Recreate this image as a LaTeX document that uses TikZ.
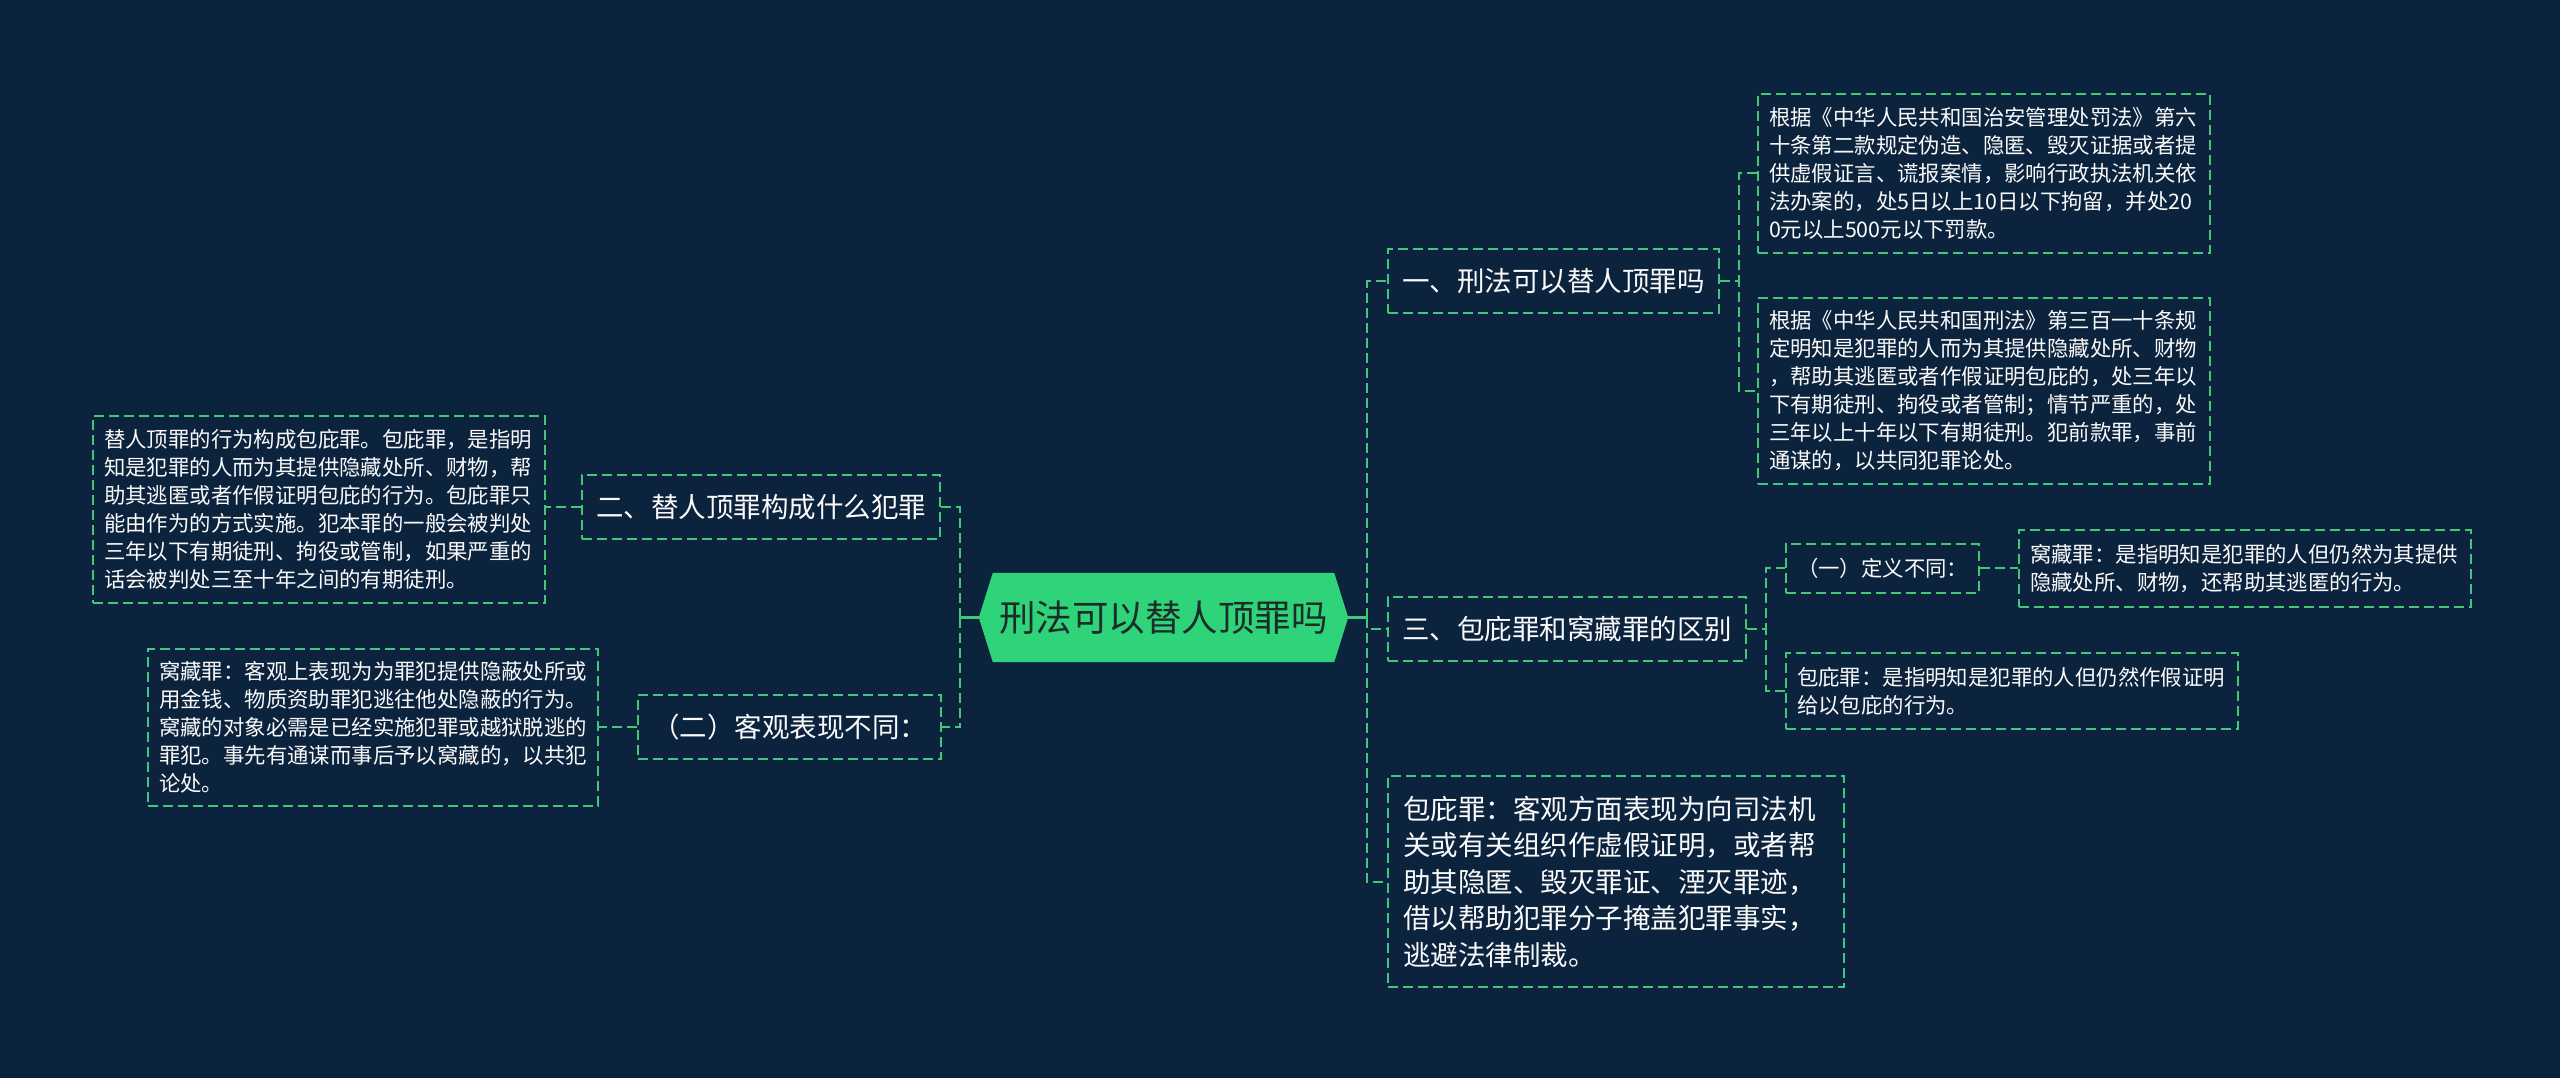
\documentclass[tikz,border=0pt]{standalone}
\usepackage{fontspec}
\setmainfont{Noto Sans CJK SC}
\usetikzlibrary{backgrounds}
\definecolor{bg}{RGB}{12,35,62}
\definecolor{lg}{RGB}{64,200,120}
\definecolor{rootfill}{RGB}{47,211,121}
\definecolor{roottext}{RGB}{28,44,40}
\definecolor{tx}{RGB}{250,250,250}
\begin{document}
\begin{tikzpicture}[x=1pt,y=-1pt,
  dsh/.style={draw=lg,line width=2pt,dash pattern=on 10pt off 5pt},
  link/.style={dsh},
  rootlink/.style={draw=lg,line width=3pt},
  lbl/.style={dsh,text=tx,font=\fontsize{27.5}{36}\selectfont,inner xsep=14pt,inner ysep=0pt,minimum height=64pt},
  txt/.style={dsh,text=tx,font=\fontsize{21.4}{28}\selectfont,align=left,inner xsep=11pt,inner ysep=0pt,anchor=north west},
  bigtxt/.style={dsh,text=tx,font=\fontsize{27.5}{36.5}\selectfont,align=left,inner xsep=15pt,inner ysep=0pt,anchor=north west},
  rootnode/.style={text=roottext,font=\fontsize{36.5}{44}\selectfont,inner sep=0pt,minimum width=369pt,minimum height=89pt}
]
\useasboundingbox (0,0) rectangle (2560,1078);

% root
\node[rootnode] (root) at (1163.5,617.5) {刑法可以替人顶罪吗};
\begin{pgfonlayer}{background}
\fill[bg] (0,0) rectangle (2560,1078);
\fill[rootfill] (root.west) -- ([xshift=14pt]root.north west) -- ([xshift=-14pt]root.north east) -- (root.east) -- ([xshift=-14pt]root.south east) -- ([xshift=14pt]root.south west) -- cycle;
\end{pgfonlayer}

\coordinate (ltrunk) at (960,617.5);
\coordinate (rtrunk) at (1367,617.5);

% right side labels
\node[lbl,anchor=west] (one) at (1387,281) {一、刑法可以替人顶罪吗};
\node[lbl,anchor=west] (three) at (1387,629) {三、包庇罪和窝藏罪的区别};
\node[bigtxt,text width=426pt,minimum height=211pt] (F) at (1387,775) {包庇罪：客观方面表现为向司法机\\关或有关组织作虚假证明，或者帮\\助其隐匿、毁灭罪证、湮灭罪迹，\\借以帮助犯罪分子掩盖犯罪事实，\\逃避法律制裁。};

% children of one
\node[txt,text width=430pt,minimum height=159pt] (A) at (1757,93) {根据《中华人民共和国治安管理处罚法》第六\\十条第二款规定伪造、隐匿、毁灭证据或者提\\供虚假证言、谎报案情，影响行政执法机关依\\法办案的，处5日以上10日以下拘留，并处20\\0元以上500元以下罚款。};
\node[txt,text width=430pt,minimum height=186pt] (B) at (1757,297) {根据《中华人民共和国刑法》第三百一十条规\\定明知是犯罪的人而为其提供隐藏处所、财物\\，帮助其逃匿或者作假证明包庇的，处三年以\\下有期徒刑、拘役或者管制；情节严重的，处\\三年以上十年以下有期徒刑。犯前款罪，事前\\通谋的，以共同犯罪论处。};

% children of three
\node[txt,anchor=west,minimum height=49pt] (C) at (1785,568) {（一）定义不同：};
\node[txt,text width=430pt,minimum height=77pt] (D) at (2018,529) {窝藏罪：是指明知是犯罪的人但仍然为其提供\\隐藏处所、财物，还帮助其逃匿的行为。};
\node[txt,text width=430pt,minimum height=76pt] (E) at (1785,652) {包庇罪：是指明知是犯罪的人但仍然作假证明\\给以包庇的行为。};

% left side
\node[lbl,anchor=east] (two) at (941,507) {二、替人顶罪构成什么犯罪};
\node[lbl,anchor=east] (twob) at (942,727) {（二）客观表现不同：};
\node[txt,text width=430pt,minimum height=187pt] (G) at (92,415) {替人顶罪的行为构成包庇罪。包庇罪，是指明\\知是犯罪的人而为其提供隐藏处所、财物，帮\\助其逃匿或者作假证明包庇的行为。包庇罪只\\能由作为的方式实施。犯本罪的一般会被判处\\三年以下有期徒刑、拘役或管制，如果严重的\\话会被判处三至十年之间的有期徒刑。};
\node[txt,text width=428pt,minimum height=157pt] (H) at (147,648) {窝藏罪：客观上表现为为罪犯提供隐蔽处所或\\用金钱、物质资助罪犯逃往他处隐蔽的行为。\\窝藏的对象必需是已经实施犯罪或越狱脱逃的\\罪犯。事先有通谋而事后予以窝藏的，以共犯\\论处。};

% connectors
\draw[rootlink] (root.west) -- (ltrunk);
\draw[rootlink] (root.east) -- (rtrunk);
\draw[link] (ltrunk) |- (two.east);
\draw[link] (ltrunk) |- (twob.east);
\draw[link] (rtrunk) |- (one.west);
\draw[link] (rtrunk) |- (three.west);
\draw[link] (rtrunk) |- (F.west);
\draw[link] (one.east) -- ++(19,0) |- (A.west);
\draw[link] (one.east) -- ++(19,0) |- (B.west);
\draw[link] (three.east) -- ++(19,0) |- (C.west);
\draw[link] (three.east) -- ++(19,0) |- (E.west);
\draw[link] (C.east) -- (C.east -| D.west);
\draw[link] (two.west) -- (two.west -| G.east);
\draw[link] (twob.west) -- (twob.west -| H.east);
\end{tikzpicture}
\end{document}
